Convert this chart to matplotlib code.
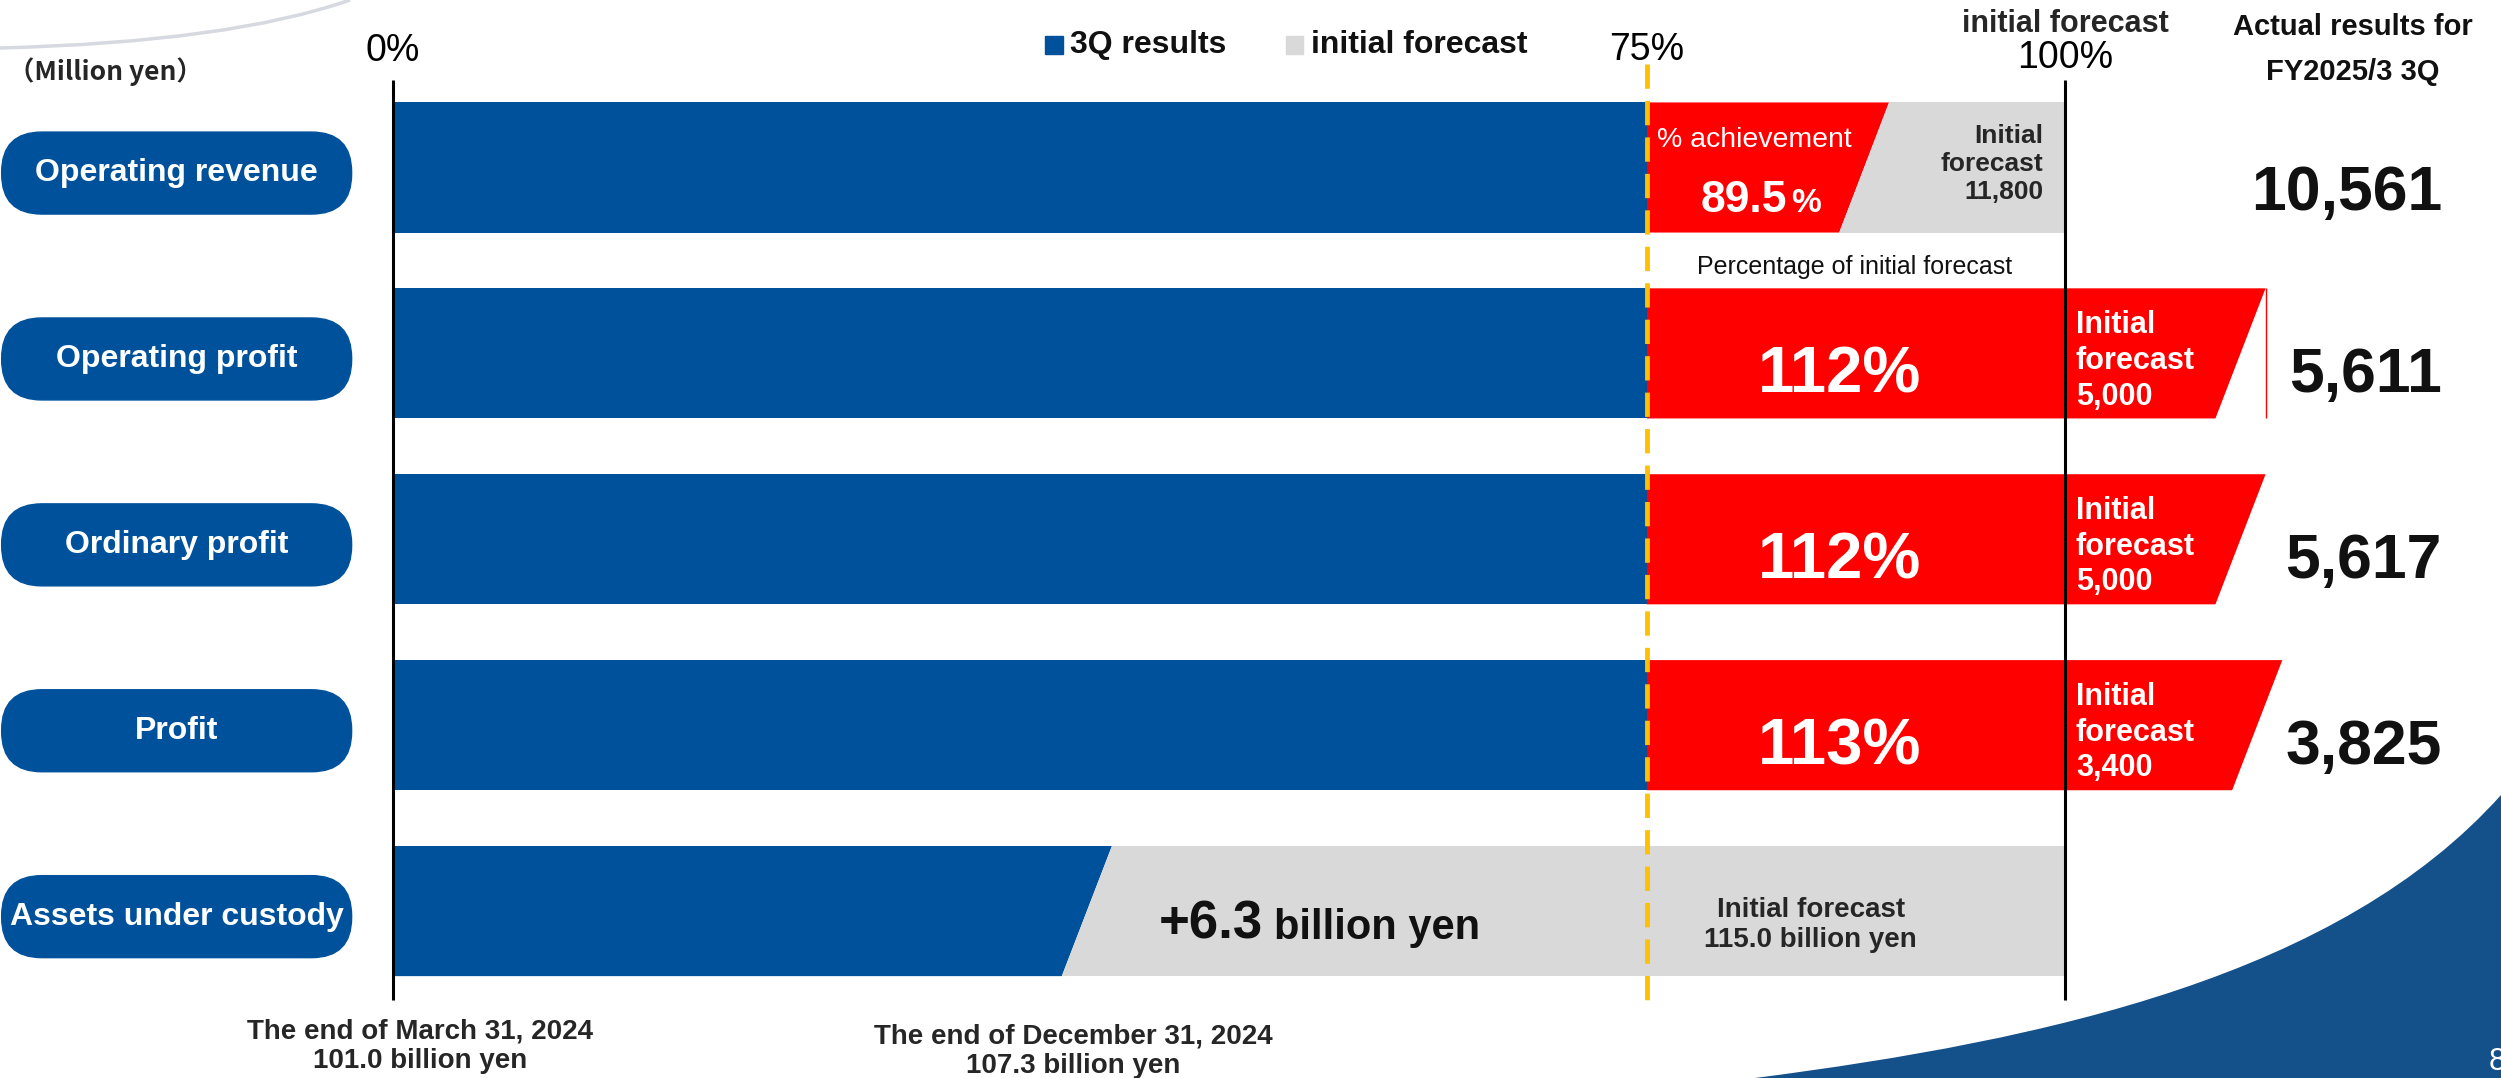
import matplotlib.pyplot as plt
from matplotlib.patches import FancyBboxPatch, Rectangle, PathPatch
from matplotlib.path import Path

# ---- data ----
categories = ['Operating revenue', 'Operating profit', 'Ordinary profit', 'Profit']
pct_of_forecast = [89.5, 112, 112, 113]
forecast_values = ['11,800', '5,000', '5,000', '3,400']
actual_values = ['10,561', '5,611', '5,617', '3,825']
quarter_mark = 75
tick_pcts = [0, 75, 100]
tick_labels = ['0%', '75%', '100%']

assets_label = 'Assets under custody'
assets_pct = 43.0          # position of the Dec-2024 mark on the 0-100 scale
assets_start = '101.0'
assets_now = '107.3'
assets_forecast = '115.0'
assets_increase = '+6.3'

BLUE = '#00519B'
RED = '#FF0000'
GRAY = '#D9D9D9'
GOLD = '#FFC000'
DARK = '#262626'
NAVY = '#14508A'
NARROW = ['Liberation Sans Narrow', 'Liberation Sans', 'DejaVu Sans']
WIDE = ['Liberation Sans', 'DejaVu Sans']

fig = plt.figure(figsize=(25.01, 10.78), dpi=100)

# decoration layer in pixel units
deco = fig.add_axes([0, 0, 1, 1], zorder=0)
deco.set_xlim(0, 2501)
deco.set_ylim(1078, 0)
deco.axis('off')
swoosh = Path([(1755, 1078), (2050, 1040), (2340, 975), (2501, 795), (2501, 1078), (1755, 1078)],
              [Path.MOVETO, Path.CURVE4, Path.CURVE4, Path.CURVE4, Path.LINETO, Path.CLOSEPOLY])
deco.add_patch(PathPatch(swoosh, facecolor=NAVY, edgecolor='none'))
arc = Path([(0, 48), (230, 42), (350, 0)], [Path.MOVETO, Path.CURVE3, Path.CURVE3])
deco.add_patch(PathPatch(arc, facecolor='none', edgecolor='#D6D9DF', lw=2.5))
deco.text(2489, 1062, '8', color='white', fontsize=22, family=WIDE, va='center', ha='left')

# main chart: x in percent of initial forecast, y in rows
ax = fig.add_axes([0, 0, 1, 1], zorder=1)
ax.patch.set_alpha(0)
ax.set_xlim(-23.5, 126.08)
ax.set_ylim(4.898, -0.901)
ax.axis('off')

rows = list(range(len(categories)))
asset_row = len(categories)
h = 0.70
slant = 3.0

# blue 3Q bars
ax.barh(rows, quarter_mark, height=h, color=BLUE, zorder=2)

for r, v in zip(rows, pct_of_forecast):
    top, bot = r - h / 2, r + h / 2
    ax.fill([quarter_mark, v, v - slant, quarter_mark], [top, top, bot, bot], color=RED, lw=0, zorder=2)
    if v < 100:
        ax.fill([v, 100, 100, v - slant], [top, top, bot, bot], color=GRAY, lw=0, zorder=2)
ax.vlines(pct_of_forecast[1], 1 - h / 2, 1 + h / 2, color=RED, lw=1, zorder=2)

# assets under custody row
top, bot = asset_row - h / 2, asset_row + h / 2
ax.fill([0, assets_pct, assets_pct - slant, 0], [top, top, bot, bot], color=BLUE, lw=0, zorder=2)
ax.fill([assets_pct, 100, 100, assets_pct - slant], [top, top, bot, bot], color=GRAY, lw=0, zorder=2)

# reference lines
ax.vlines([0, 100], -0.47, 4.48, color='black', lw=2.2, zorder=3)
ax.vlines(quarter_mark, -0.557, 4.494, color=GOLD, lw=3.5, linestyles=(0, (5, 2.5)), zorder=3)

# tick labels on top
for p, lab, y in zip(tick_pcts, tick_labels, [-0.627, -0.632, -0.589]):
    ax.text(p, y, lab, ha='center', va='center', fontsize=27, family=NARROW)
ax.text(100, -0.772, 'initial forecast', ha='center', va='center', fontsize=22,
        family=NARROW, weight='bold', color=DARK)

# legend
for x0, col, lab in [(39.0, BLUE, '3Q results'), (53.4, GRAY, 'initial forecast')]:
    ax.add_patch(Rectangle((x0, -0.659 - 0.048), 1.05, 0.097, color=col, zorder=3))
    ax.text(x0 + 1.5, -0.659, lab, ha='left', va='center', fontsize=23, family=NARROW,
            weight='bold', color='#111111')

ax.text(-23.0, -0.514, '（Million yen）', ha='left', va='center', fontsize=19,
        family=['Liberation Sans Narrow', 'Noto Sans CJK JP'], weight='bold', color=DARK)
ax.text(117.2, -0.756, 'Actual results for', ha='center', va='center', fontsize=21,
        family=WIDE, weight='bold', color='#111111')
ax.text(117.2, -0.514, 'FY2025/3 3Q', ha='center', va='center', fontsize=21,
        family=WIDE, weight='bold', color='#111111')

# category pills
pill_w, pill_h = 20.93, 0.441
for r, lab in enumerate(categories + [assets_label]):
    yc = r + 0.03
    ax.add_patch(FancyBboxPatch((-23.4, yc - pill_h / 2), pill_w, pill_h,
                                boxstyle='round,pad=0,rounding_size=2.4',
                                mutation_aspect=16.72 / 185.9, color=BLUE, zorder=3))
    fam = NARROW if r == asset_row else WIDE
    ax.text(-23.4 + pill_w / 2, yc, lab, ha='center', va='center', fontsize=23,
            family=fam, weight='bold', color='white', zorder=4)

# actual values
for r, val in zip(rows, actual_values):
    ax.text(122.55, r + (0.23 if r == 0 else 0.21), val, ha='right', va='baseline',
            fontsize=45, family=WIDE, weight='bold', color='#111111')

# first row: achievement text
ax.text(75.6, -0.11, '% achievement', ha='left', va='baseline', fontsize=20.5,
        family=WIDE, color='white', zorder=4)
ax.text(83.4, 0.24, f'{pct_of_forecast[0]}', ha='right', va='baseline', fontsize=32,
        family=WIDE, weight='bold', color='white', zorder=4)
ax.text(83.6, 0.24, '%', ha='left', va='baseline', fontsize=24,
        family=WIDE, weight='bold', color='white', zorder=4)
ax.text(98.7, -0.02, f'Initial\nforecast\n{forecast_values[0]}', ha='right', va='center',
        fontsize=19, family=NARROW, weight='bold', color=DARK, linespacing=1.22, zorder=4)
ax.text(87.4, 0.535, 'Percentage of initial forecast', ha='center', va='center',
        fontsize=18, family=NARROW, color='#111111')

# other rows: percentage and forecast
for r in rows[1:]:
    ax.text(86.5, r + 0.21, f'{pct_of_forecast[r]:g}%', ha='center', va='baseline',
            fontsize=47, family=NARROW, weight='bold', color='white', zorder=4)
    ax.text(100.66, r + 0.04, f'Initial\nforecast\n{forecast_values[r]}', ha='left',
            va='center', fontsize=22, family=NARROW, weight='bold', color='white',
            linespacing=1.25, zorder=4)

# assets texts
ax.text(45.8, asset_row + 0.15, assets_increase, ha='left', va='baseline', fontsize=38,
        family=NARROW, weight='bold', color='#111111', zorder=4)
ax.text(52.7, asset_row + 0.15, 'billion yen', ha='left', va='baseline', fontsize=30,
        family=NARROW, weight='bold', color='#111111', zorder=4)
ax.text(84.8, asset_row + 0.075, f'Initial forecast\n{assets_forecast} billion yen',
        ha='center', va='center', fontsize=20, family=NARROW, weight='bold', color=DARK,
        linespacing=1.2, zorder=4)
ax.text(1.6, 4.726, f'The end of March 31, 2024\n{assets_start} billion yen', ha='center',
        va='center', fontsize=20, family=NARROW, weight='bold', color=DARK, linespacing=1.2)
ax.text(40.7, 4.753, f'The end of December 31, 2024\n{assets_now} billion yen', ha='center',
        va='center', fontsize=20, family=NARROW, weight='bold', color=DARK, linespacing=1.2)

fig.savefig('out.png', dpi=100)
